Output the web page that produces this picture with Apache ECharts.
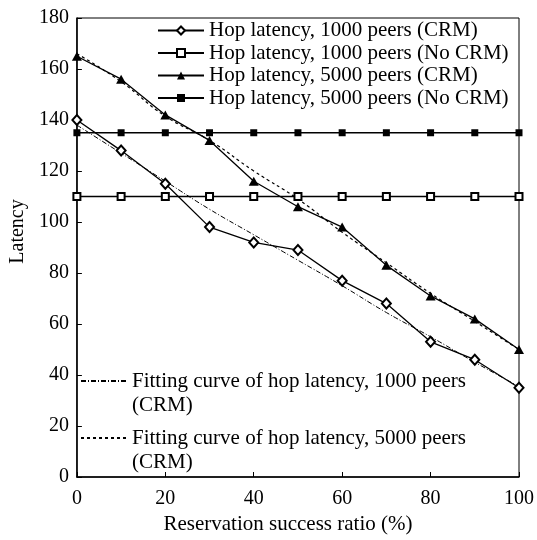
<!DOCTYPE html>
<html>
<head>
<meta charset="utf-8">
<script src="https://cdn.jsdelivr.net/npm/echarts@6/dist/echarts.min.js"></script>
<style>
  html, body { margin: 0; padding: 0; background: #fff; }
  #chart { width: 537px; height: 540px; }
</style>
</head>
<body>
<div id="chart"></div>
<script>
// reservation success ratio (%)
var ratios = [0, 10, 20, 30, 40, 50, 60, 70, 80, 90, 100];

var names = [
  'Hop latency, 1000 peers (CRM)',
  'Hop latency, 1000 peers (No CRM)',
  'Hop latency, 5000 peers (CRM)',
  'Hop latency, 5000 peers (No CRM)',
  'Fitting curve of hop latency, 1000 peers (CRM)',
  'Fitting curve of hop latency, 5000 peers (CRM)'
];

var crm1000 = [140, 128, 115, 98, 92, 89, 77, 68, 53, 46, 35];
var noCrm1000 = [110, 110, 110, 110, 110, 110, 110, 110, 110, 110, 110];
var crm5000 = [165, 156, 142, 132, 116, 106, 98, 83, 71, 62, 50];
var noCrm5000 = [135, 135, 135, 135, 135, 135, 135, 135, 135, 135, 135];
var fit1000 = [138, 127, 116, 105, 95, 85, 75, 64.5, 55, 45, 35.5];
var fit5000 = [166, 155, 141.5, 132, 120, 109, 96, 84, 72, 61, 50];

function pairs(ys) {
  return ratios.map(function (x, i) { return [x, ys[i]]; });
}

var font = 'Liberation Serif';

// fitting curve legends: icon sits on the first line, "(CRM)" wraps below
function fitLegend(name, top) {
  return {
    orient: 'vertical',
    left: 75,
    top: top,
    itemWidth: 46,
    itemHeight: 10,
    itemGap: 0,
    data: [name],
    itemStyle: { opacity: 0 },
    formatter: function (n) { return '\n' + n.replace(' (CRM)', '\n(CRM)'); },
    textStyle: { fontFamily: font, fontSize: 21, color: '#000', lineHeight: 24 }
  };
}

var chart = echarts.init(document.getElementById('chart'));
var option = {
  animation: false,
  grid: {
    left: 76, right: 18, top: 18, bottom: 61,
    show: true, borderColor: '#000', borderWidth: 1
  },
  legend: [
    {
      orient: 'vertical',
      left: 152,
      top: 15,
      itemWidth: 46,
      itemHeight: 10,
      itemGap: 1.5,
      data: names.slice(0, 4),
      textStyle: { fontFamily: font, fontSize: 21, color: '#000', lineHeight: 21 }
    },
    fitLegend(names[4], 340),
    fitLegend(names[5], 397)
  ],
  xAxis: {
    type: 'value',
    min: 0, max: 100, interval: 20,
    name: 'Reservation success ratio (%)',
    nameLocation: 'middle',
    nameGap: 37,
    nameTextStyle: { fontFamily: font, fontSize: 21, color: '#000', padding: [0, 20, 0, 0] },
    axisLine: { lineStyle: { color: '#000', width: 1.5 } },
    axisTick: { inside: true, length: 5, lineStyle: { color: '#000' } },
    axisLabel: { fontFamily: font, fontSize: 20, color: '#000', margin: 12 },
    splitLine: { show: false }
  },
  yAxis: {
    type: 'value',
    min: 0, max: 180, interval: 20,
    name: 'Latency',
    nameLocation: 'middle',
    nameGap: 47,
    nameTextStyle: { fontFamily: font, fontSize: 20, color: '#000', padding: [0, 0, 0, 32] },
    axisLine: { show: true, lineStyle: { color: '#000', width: 1.5 } },
    axisTick: { show: true, inside: true, length: 5, lineStyle: { color: '#000' } },
    axisLabel: { fontFamily: font, fontSize: 20, color: '#000', margin: 8 },
    splitLine: { show: false }
  },
  series: [
    {
      name: names[0], type: 'line', data: pairs(crm1000),
      symbol: 'emptyDiamond', symbolSize: [9, 10],
      itemStyle: { color: '#000', borderWidth: 1 },
      lineStyle: { color: '#000', width: 1.3 }
    },
    {
      name: names[1], type: 'line', data: pairs(noCrm1000),
      symbol: 'emptyRect', symbolSize: 7,
      itemStyle: { color: '#000', borderWidth: 1 },
      lineStyle: { color: '#000', width: 1.3 }
    },
    {
      name: names[2], type: 'line', data: pairs(crm5000),
      symbol: 'triangle', symbolSize: [10, 9],
      itemStyle: { color: '#000' },
      lineStyle: { color: '#000', width: 1.3 }
    },
    {
      name: names[3], type: 'line', data: pairs(noCrm5000),
      symbol: 'rect', symbolSize: 7,
      itemStyle: { color: '#000' },
      lineStyle: { color: '#000', width: 1.3 }
    },
    {
      name: names[4], type: 'line', data: pairs(fit1000),
      smooth: true, showSymbol: false, symbol: 'none',
      itemStyle: { color: '#000' },
      lineStyle: { color: '#000', width: 1, type: [5, 2, 1, 2] }
    },
    {
      name: names[5], type: 'line', data: pairs(fit5000),
      smooth: true, showSymbol: false, symbol: 'none',
      itemStyle: { color: '#000' },
      lineStyle: { color: '#000', width: 1.2, type: [3, 3] }
    }
  ]
};
chart.setOption(option);
</script>
</body>
</html>
